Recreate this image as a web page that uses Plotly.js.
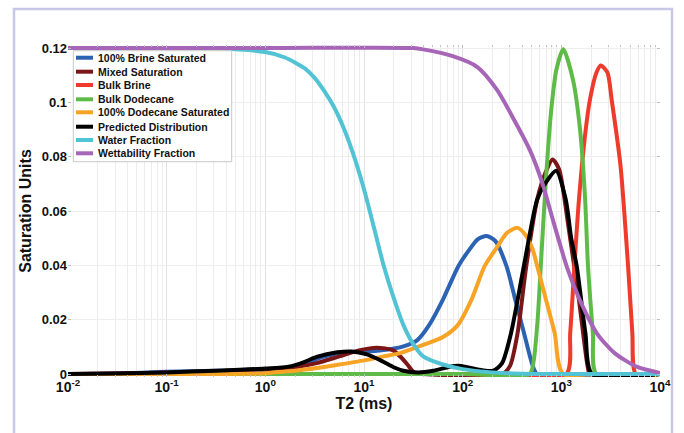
<!DOCTYPE html>
<html>
<head>
<meta charset="utf-8">
<script src="https://cdn.plot.ly/plotly-3.0.1.min.js"></script>
<style>
html,body{margin:0;padding:0;background:#fff;}
#chart{width:684px;height:433px;}
</style>
</head>
<body>
<div id="chart"></div>
<script>
// ---- data (T2 in ms, values in saturation units) ----
const seriesNames = ["100% Brine Saturated","Mixed Saturation","Bulk Brine","Bulk Dodecane",
  "100% Dodecane Saturated","Predicted Distribution","Water Fraction","Wettability Fraction"];
const seriesColors = ["#2c62b3","#7a1518","#ee3b2b","#5fbb47","#f7a326","#000000","#52c3d4","#a765b8"];

const brineSatT2 = [0.01,0.0316,0.1,0.316,1,1.58,1.9,2.82,3.85,6.76,10,15.8,25.1,34.7,45.7,63.1,90.4,117,141,175,214,278,341,419,513,570,10000];
const brineSatV  = [0,0.0002,0.0008,0.0012,0.0015,0.002,0.0026,0.0045,0.0063,0.0081,0.0082,0.0088,0.0102,0.0125,0.018,0.0274,0.0397,0.0458,0.0495,0.0508,0.049,0.0397,0.0274,0.015,0.003,0,0];

const mixedT2 = [0.01,0.1,0.316,1,2.0,3.31,5.62,9.12,13.5,19.5,24,27.5,32.4,39.8,251,302,360,441,570,698,815,951,1167,1507,1849,1950,10000];
const mixedV  = [0,0.0005,0.001,0.0018,0.0025,0.004,0.0065,0.0088,0.0097,0.0088,0.006,0.0035,0.0005,0,0,0.003,0.015,0.0397,0.0643,0.0745,0.079,0.0753,0.0555,0.0274,0.0027,0,0];

const bulkBrineT2 = [0.01,100,1122,1230,1358,1507,1754,1950,2270,2512,2931,3236,3981,4742,5248,5702,10000];
const bulkBrineV  = [0,0,0,0.015,0.040,0.064,0.089,0.101,0.111,0.1136,0.111,0.101,0.0766,0.040,0.015,0,0];

const bulkDodT2 = [0.01,100,479,525,575,631,708,794,891,1047,1318,1549,1738,1862,2089,2270,10000];
const bulkDodV  = [0,0,0,0.005,0.020,0.045,0.075,0.098,0.112,0.1195,0.108,0.0898,0.065,0.040,0.015,0,0];

const dodSatT2 = [0.01,0.316,1,1.32,2.0,3.31,5.62,10.7,15.8,23.2,39.8,63.1,89.1,123,167,215,282,360,437,513,570,698,857,1047,10000];
const dodSatV  = [0,0,0.0003,0.0007,0.0012,0.0022,0.0035,0.0052,0.0065,0.0077,0.0107,0.0136,0.018,0.0274,0.0397,0.0458,0.052,0.0538,0.051,0.0458,0.0397,0.0274,0.015,0,0];

const predT2 = [0.01,0.0316,0.1,0.316,1,1.78,2.51,3.31,5.37,7.41,10.7,15.5,20,25.1,35.5,50.1,70.8,90.4,112,158,204,251,309,417,570,698,885,1107,1259,1432,1754,2042,10000];
const predV  = [0,0.0002,0.0006,0.0012,0.002,0.0028,0.0045,0.0063,0.008,0.0083,0.0072,0.0046,0.0025,0.0012,0.0006,0.0012,0.0025,0.003,0.0025,0.0014,0.0012,0.004,0.015,0.0397,0.0643,0.0705,0.0748,0.0643,0.05,0.0397,0.015,0,0];

const waterT2 = [0.01,0.1,0.316,1,1.58,2.51,3.16,3.98,5.01,6.31,7.94,10,12.6,15.8,20,25.1,31.6,39.8,63.1,100,200,398,1000,10000];
const waterV  = [0.12,0.12,0.1199,0.1185,0.1165,0.1125,0.109,0.104,0.098,0.090,0.080,0.068,0.054,0.040,0.028,0.018,0.011,0.0065,0.0035,0.0018,0.0006,0.0001,0,0];

const wettT2 = [0.01,1,31.6,39.8,79.4,141,224,316,479,646,832,1148,1549,2291,3467,5888,10000];
const wettV  = [0.12,0.12,0.12,0.1195,0.117,0.113,0.1045,0.095,0.0825,0.070,0.056,0.039,0.027,0.015,0.0077,0.0026,0.0004];

const xs = [brineSatT2,mixedT2,bulkBrineT2,bulkDodT2,dodSatT2,predT2,waterT2,wettT2];
const ys = [brineSatV,mixedV,bulkBrineV,bulkDodV,dodSatV,predV,waterV,wettV];

const xTickVals = [0.01,0.1,1,10,100,1000,10000];
const xTickText = ["10<sup>-2</sup>","10<sup>-1</sup>","10<sup>0</sup>","10<sup>1</sup>","10<sup>2</sup>","10<sup>3</sup>","10<sup>4</sup>"];
const yTickVals = [0,0.02,0.04,0.06,0.08,0.1,0.12];
const yTickText = ["0","0.02","0.04","0.06","0.08","0.1","0.12"];

// ---- traces ----
const traces = seriesNames.map((n,i)=>({
  x: xs[i], y: ys[i], name: n, type:'scatter', mode:'lines',
  line:{color:seriesColors[i], width:4, shape:'spline', smoothing:0.7},
  showlegend:false
}));

// ---- custom compact legend (matches reference spacing) ----
const FONT = "Liberation Sans, Arial, Helvetica, sans-serif";
const legY = [0.9617,0.9196,0.8795,0.8364,0.7973,0.7539,0.7139,0.6738];
const shapes = [
  {type:'rect', xref:'paper', yref:'paper', x0:-0.0912, x1:1.0203, y0:-0.25, y1:1.1084,
   line:{color:'#c9c7e6', width:2.5}, fillcolor:'rgba(0,0,0,0)', layer:'below'},
  {type:'rect', xref:'paper', yref:'paper', x0:0.009, x1:0.2765, y0:0.6485, y1:0.9828,
   line:{color:'#c8c8c8', width:1}, fillcolor:'#ffffff', layer:'above'}
];
const annotations = [];
seriesNames.forEach((n,i)=>{
  shapes.push({type:'line', xref:'paper', yref:'paper', x0:0.0135, x1:0.0422, y0:legY[i], y1:legY[i],
    line:{color:seriesColors[i], width:4}, layer:'above'});
  annotations.push({xref:'paper', yref:'paper', x:0.0468, y:legY[i], xanchor:'left', yanchor:'middle',
    text:n, showarrow:false, font:{family:FONT, size:10.5, color:'#111', weight:'bold'}});
});

const layout = {
  width:684, height:433,
  margin:{l:68, r:24, t:45, b:56},
  paper_bgcolor:'#ffffff', plot_bgcolor:'#ffffff',
  font:{family:FONT, color:'#111'},
  showlegend:false,
  xaxis:{
    type:'log', range:[-2,4], tickvals:xTickVals, ticktext:xTickText,
    showgrid:true, gridcolor:'#e2e2e2', gridwidth:1,
    minor:{showgrid:true, gridcolor:'#ececec', gridwidth:1, dtick:'D1', ticks:'inside', ticklen:2, tickcolor:'#c4c4c4'},
    zeroline:false, showline:false, ticks:'inside', ticklen:3, tickcolor:'#bdbdbd', mirror:'ticks',
    tickfont:{family:FONT, size:14, color:'#111', weight:'bold'},
    title:{text:'T2 (ms)', font:{family:FONT, size:16, color:'#111', weight:'bold'}, standoff:0}
  },
  yaxis:{
    range:[-0.0011,0.12111], tickvals:yTickVals, ticktext:yTickText,
    showgrid:true, gridcolor:'#eeeeee', gridwidth:1,
    zeroline:false, showline:false, ticks:'inside', ticklen:3, tickcolor:'#bdbdbd', mirror:'ticks',
    tickfont:{family:FONT, size:13, color:'#111', weight:'bold'},
    title:{text:'Saturation Units', font:{family:FONT, size:16, color:'#111', weight:'bold'}, standoff:6}
  },
  shapes:shapes,
  annotations:annotations
};

Plotly.newPlot('chart', traces, layout, {displayModeBar:false, staticPlot:true});
</script>
</body>
</html>
